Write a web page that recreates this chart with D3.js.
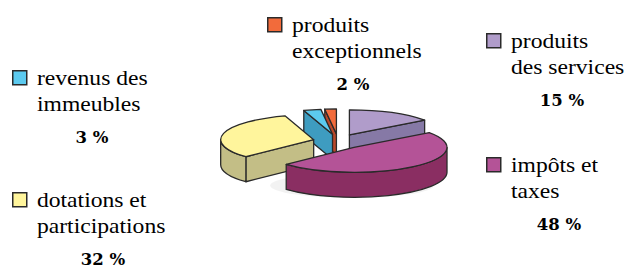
<!DOCTYPE html>
<html><head><meta charset="utf-8">
<script src="https://cdn.jsdelivr.net/npm/d3@7"></script>
</head>
<body style="margin:0;background:#fff">
<svg id="c" width="625" height="265" style="display:block"></svg>
<script>
// ---- data ----
const categories = ["produits des services","impôts et taxes","dotations et participations","revenus des immeubles","produits exceptionnels"];
const values = [15, 48, 32, 3, 2];
const labelLines = [["produits","des services"],["impôts et","taxes"],["dotations et","participations"],["revenus des","immeubles"],["produits","exceptionnels"]];
const pctLabels = ["15 %","48 %","32 %","3 %","2 %"];

// ---- styles / layout ----
const topColors  = ["#B09CCA","#B45397","#FFF59C","#5CCAEF","#F26B3B"];
const sideColors = ["#8679A6","#8A2E62","#C3BE86","#3E9CC0","#B9482A"];
const legendPos = [[486,33],[486,157],[12,192],[12,70],[267,17]];
const pctX = [562, 559, 103, 92, 353];

const svg = d3.select("#c");
const cx0 = 338, cy0 = 141.5, rx = 93, ry = 25, depth = 25, exX = 0.27, exY = 0.3;

const pie = d3.pie().sort(null).value(d => d)(values);

function pt(cx, cy, a){ return [cx + rx*Math.sin(a), cy - ry*Math.cos(a)]; }

const slices = pie.map((p,i) => {
  const mid = (p.startAngle + p.endAngle)/2;
  const cx = cx0 + exX*rx*Math.sin(mid);
  const cy = cy0 - exY*ry*Math.cos(mid);
  return {p, i, cx, cy};
});

categories.forEach((c, i) => {
  const [x, y] = legendPos[i];
  svg.append("rect").attr("x", x+0.75).attr("y", y+0.75).attr("width", 14).attr("height", 14)
    .attr("fill", topColors[i]).attr("stroke", "#2a2a2a").attr("stroke-width", 1.5);
  labelLines[i].forEach((ln, k) => {
    svg.append("text").attr("x", x+25).attr("y", y+15+k*26)
      .attr("font-family", "Liberation Serif, Times New Roman, Tinos")
      .attr("font-size", 20).attr("textLength", null)
      .attr("transform", `matrix(1.18,0,0,1,${-(x+25)*0.18},0)`)
      .text(ln);
  });
  svg.append("text").attr("x", pctX[i]).attr("y", y+15+26+32).attr("text-anchor","middle")
    .attr("font-family", "DejaVu Serif").attr("font-size", 16.5).attr("font-weight","bold")
    .text(pctLabels[i]);
});

const order = slices.slice().sort((a,b) => a.cy - b.cy);
const stroke = "#2a2a2a", sw = 1.3;

svg.append("ellipse").attr("cx", cx0+14).attr("cy", cy0+depth+19).attr("rx", rx*0.88).attr("ry", ry*0.5)
  .attr("fill","#000").attr("opacity",0.05);

order.forEach(s => {
  const {p, i, cx, cy} = s;
  const g = svg.append("g");
  const a0 = p.startAngle, a1 = p.endAngle;
  const faces = [];
  if (Math.sin(a0) < -1e-6) faces.push(a0);
  if (Math.sin(a1) > 1e-6) faces.push(a1);
  faces.forEach(a => {
    const e = pt(cx, cy, a);
    const d = `M${cx},${cy}L${e[0]},${e[1]}L${e[0]},${e[1]+depth}L${cx},${cy+depth}Z`;
    g.append("path").attr("d", d).attr("fill", sideColors[i]).attr("stroke", stroke).attr("stroke-width", sw).attr("stroke-linejoin","round");
  });
  const w0 = Math.max(a0, Math.PI/2), w1 = Math.min(a1, 3*Math.PI/2);
  if (w1 > w0) {
    const t0 = pt(cx, cy, w0), t1 = pt(cx, cy, w1);
    const large = (w1 - w0) > Math.PI ? 1 : 0;
    const d = `M${t0[0]},${t0[1]}A${rx},${ry} 0 ${large} 1 ${t1[0]},${t1[1]}L${t1[0]},${t1[1]+depth}A${rx},${ry} 0 ${large} 0 ${t0[0]},${t0[1]+depth}Z`;
    g.append("path").attr("d", d).attr("fill", sideColors[i]).attr("stroke", stroke).attr("stroke-width", sw).attr("stroke-linejoin","round");
  }
  const s0 = pt(cx, cy, a0), s1 = pt(cx, cy, a1);
  const large = (a1 - a0) > Math.PI ? 1 : 0;
  const d = `M${cx},${cy}L${s0[0]},${s0[1]}A${rx},${ry} 0 ${large} 1 ${s1[0]},${s1[1]}Z`;
  g.append("path").attr("d", d).attr("fill", topColors[i]).attr("stroke", stroke).attr("stroke-width", sw).attr("stroke-linejoin","round");
});
</script>
</body></html>
